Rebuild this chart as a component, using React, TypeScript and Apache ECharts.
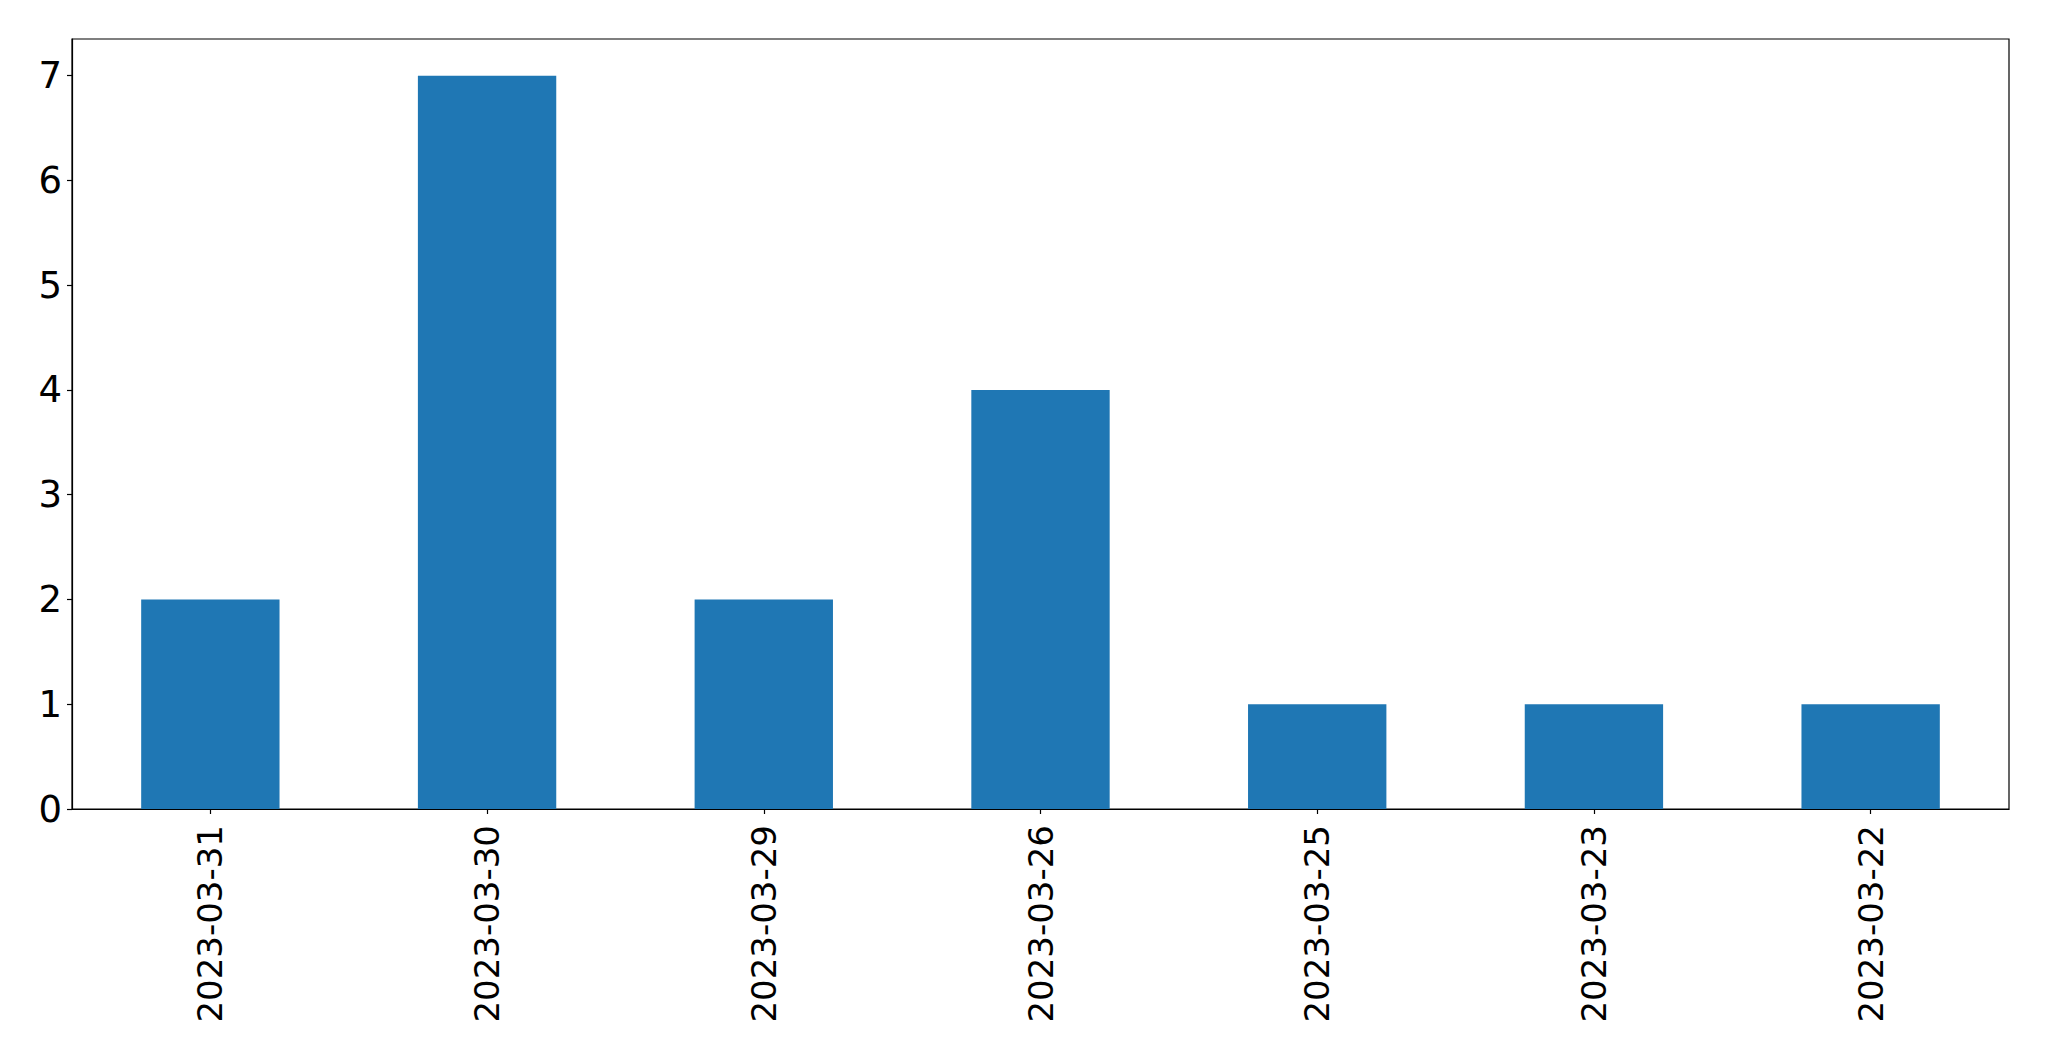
import React, { useEffect, useRef } from "react";
import * as echarts from "echarts";

const categories = [
  "2023-03-31",
  "2023-03-30",
  "2023-03-29",
  "2023-03-26",
  "2023-03-25",
  "2023-03-23",
  "2023-03-22",
];
const values = [2, 7, 2, 4, 1, 1, 1];
const yTicks = [0, 1, 2, 3, 4, 5, 6, 7];

export default function App() {
  const ref = useRef<HTMLDivElement>(null);
  useEffect(() => {
    if (!ref.current) return;
    const chart = echarts.init(ref.current, null, { renderer: "svg" });
    const font = "DejaVu Sans";
    chart.setOption({
      animation: false,
      backgroundColor: "#ffffff",
      grid: {
        left: 72,
        top: 39,
        width: 1937,
        height: 770,
        show: true,
        borderColor: "#000000",
        borderWidth: 1.2,
        backgroundColor: "transparent",
      },
      xAxis: {
        type: "category",
        data: categories,
        boundaryGap: true,
        axisLine: { show: true, lineStyle: { color: "#000000", width: 1.2 } },
        axisTick: {
          show: true,
          alignWithLabel: true,
          length: 5,
          lineStyle: { color: "#000000", width: 1.2 },
        },
        axisLabel: {
          rotate: 90,
          margin: 16,
          fontFamily: font,
          fontSize: 34,
          color: "#000000",
        },
        splitLine: { show: false },
      },
      yAxis: {
        type: "value",
        min: 0,
        max: 7.35,
        interval: 1,
        axisLine: { show: true, lineStyle: { color: "#000000", width: 1.2 } },
        axisTick: {
          show: true,
          length: 5,
          customValues: yTicks,
          lineStyle: { color: "#000000", width: 1.2 },
        },
        axisLabel: {
          margin: 10,
          customValues: yTicks,
          fontFamily: font,
          fontSize: 37,
          color: "#000000",
        },
        splitLine: { show: false },
      },
      series: [
        {
          type: "bar",
          data: values,
          barWidth: "50%",
          itemStyle: { color: "#1f77b4" },
        },
      ],
    });
    return () => chart.dispose();
  }, []);
  return (
    <div
      ref={ref}
      style={{ position: "fixed", left: 0, top: 0, width: 2049, height: 1061 }}
    />
  );
}
